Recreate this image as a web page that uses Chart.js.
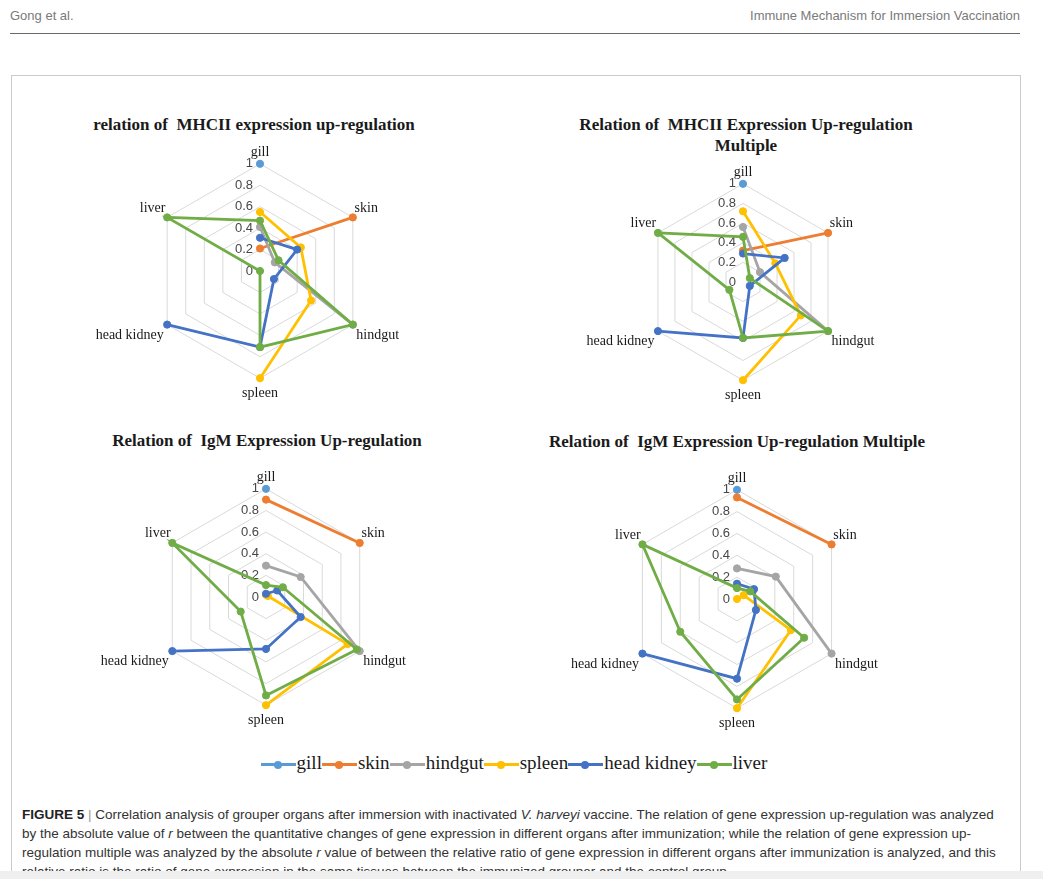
<!DOCTYPE html>
<html>
<head>
<meta charset="utf-8">
<script src="https://cdn.jsdelivr.net/npm/chart.js@4.4.1/dist/chart.umd.min.js"></script>
<style>
body { margin: 0; width: 1043px; height: 879px; position: relative; background: #fff; overflow: hidden; font-family: "Liberation Sans", Arial, sans-serif; }
.hdr { position: absolute; top: 8px; font-size: 13px; color: #7a7a7a; }
#rule { position: absolute; left: 10px; top: 33px; width: 1010px; height: 0; border-top: 1.5px solid #6a6a6a; }
#box { position: absolute; left: 11px; top: 75px; width: 1008px; height: 820px; border: 1.5px solid #cbcbcb; }
.title { position: absolute; font: bold 17px "Liberation Serif", "Times New Roman", serif; color: #1a1a1a; white-space: pre; text-align: center; line-height: 21px; transform: translateX(-50%); }
canvas { position: absolute; }
#legend { position: absolute; left: 0; width: 1028px; top: 752px; text-align: center; font: 19px "Liberation Serif", serif; color: #1a1a1a; white-space: nowrap; }
.mk { position: relative; display: inline-block; width: 35px; height: 3px; vertical-align: middle; margin: 0 1px 0 0; }
.mk i { position: absolute; left: 13px; top: -2.5px; width: 8px; height: 8px; border-radius: 50%; }
#caption { position: absolute; left: 22px; top: 805px; font-size: 13.5px; line-height: 19px; color: #333; white-space: nowrap; }
#band { position: absolute; left: 0; top: 871px; width: 1043px; height: 8px; background: #efefef; }
</style>
</head>
<body>
<div class="hdr" style="left:10px">Gong et al.</div>
<div class="hdr" style="right:23px">Immune Mechanism for Immersion Vaccination</div>
<div id="rule"></div>
<div id="box"></div>

<div class="title" style="left:254px;top:114px">relation of  MHCII expression up-regulation</div>
<div class="title" style="left:746px;top:114px">Relation of  MHCII Expression Up-regulation
Multiple</div>
<div class="title" style="left:267px;top:430px">Relation of  IgM Expression Up-regulation</div>
<div class="title" style="left:737px;top:431px">Relation of  IgM Expression Up-regulation Multiple</div>

<canvas id="c1"></canvas>
<canvas id="c2"></canvas>
<canvas id="c3"></canvas>
<canvas id="c4"></canvas>

<div id="legend"></div>

<div id="caption"><b style="color:#222">FIGURE 5</b> <span style="color:#999">|</span> Correlation analysis of grouper organs after immersion with inactivated <i>V. harveyi</i> vaccine. The relation of gene expression up-regulation was analyzed<br>by the absolute value of <i>r</i> between the quantitative changes of gene expression in different organs after immunization; while the relation of gene expression up-<br>regulation multiple was analyzed by the absolute <i>r</i> value of between the relative ratio of gene expression in different organs after immunization is analyzed, and this<br>relative ratio is the ratio of gene expression in the same tissues between the immunized grouper and the control group.</div>
<div id="band"></div>

<script>
// axes of every radar, also the series names
const organs = ['gill', 'skin', 'hindgut', 'spleen', 'head kidney', 'liver'];
const seriesColors = ['#5b9bd5', '#ed7d31', '#a5a5a5', '#ffc000', '#4472c4', '#70ad47'];
const tickValues = [0, 0.2, 0.4, 0.6, 0.8, 1];
const tickLabels = ['0', '0.2', '0.4', '0.6', '0.8', '1'];

// relation of MHCII expression up-regulation
const mhcRelGill = [1, null, null, null, null, null];
const mhcRelSkin = [0.21, 1, null, null, null, null];
const mhcRelHindgut = [0.41, 0.16, 1, null, null, null];
const mhcRelSpleen = [0.55, 0.44, 0.55, 1, null, null];
const mhcRelHeadKidney = [0.31, 0.4, 0.15, 0.71, 1, null];
const mhcRelLiver = [0.47, 0.2, 1, 0.71, 0, 1];

// MHCII up-regulation multiple
const mhcMulGill = [1, null, null, null, null, null];
const mhcMulSkin = [0.32, 1, null, null, null, null];
const mhcMulHindgut = [0.56, 0.2, 1, null, null, null];
const mhcMulSpleen = [0.72, 0.38, 0.68, 1, null, null];
const mhcMulHeadKidney = [0.29, 0.49, 0.08, 0.57, 1, null];
const mhcMulLiver = [0.46, 0.08, 1, 0.57, 0.16, 1];

// relation of IgM expression up-regulation
const igmRelGill = [1, null, null, null, null, null];
const igmRelSkin = [0.9, 1, null, null, null, null];
const igmRelHindgut = [0.29, 0.37, 1, null, null, null];
const igmRelSpleen = [0.02, 0.02, 0.87, 1, null, null];
const igmRelHeadKidney = [0.03, 0.12, 0.37, 0.48, 1, null];
const igmRelLiver = [0.11, 0.18, 0.97, 0.91, 0.27, 1];

// IgM up-regulation multiple
const igmMulGill = [1, null, null, null, null, null];
const igmMulSkin = [0.93, 1, null, null, null, null];
const igmMulHindgut = [0.28, 0.41, 1, null, null, null];
const igmMulSpleen = [0, 0.07, 0.57, 1, null, null];
const igmMulHeadKidney = [0.14, 0.18, 0.2, 0.73, 1, null];
const igmMulLiver = [0.1, 0.14, 0.71, 0.92, 0.6, 1];

// tick labels sit left of the gill axis, "0" included
const tickLabelPlugin = {
    id: 'tickLabels',
    beforeDatasetsDraw(chart) {
        const s = chart.scales.r;
        const ctx = chart.ctx;
        ctx.save();
        ctx.font = '13px "Liberation Sans", Arial, sans-serif';
        ctx.fillStyle = '#474747';
        ctx.textAlign = 'right';
        ctx.textBaseline = 'middle';
        tickValues.forEach((v, i) => {
            const d = s.getDistanceFromCenterForValue(v);
            ctx.fillText(tickLabels[i], s.xCenter - 7, s.yCenter - d);
        });
        ctx.restore();
    }
};

const labelSize = 14;
const labelLine = labelSize * 1.2;
// gap between a vertex and its organ label, per axis
const labelPads = [3, 2, 4, 7, 4, 2];

function makeRadar(id, cx, cy, radius, rows) {
    const canvas = document.getElementById(id);
    const w = 440;
    const maxPad = Math.max(labelPads[0], labelPads[3]);
    const h = 2 * Math.round(radius + maxPad + labelLine);
    const shift = Math.floor((labelPads[0] - labelPads[3]) / 2);
    canvas.width = w;
    canvas.height = h;
    canvas.style.left = (cx - w / 2) + 'px';
    canvas.style.top = (cy - h / 2 - shift) + 'px';
    return new Chart(canvas, {
        type: 'radar',
        data: {
            labels: organs,
            datasets: rows.map((row, i) => ({
                label: organs[i],
                data: row,
                borderColor: seriesColors[i],
                backgroundColor: seriesColors[i],
                pointBackgroundColor: seriesColors[i],
                pointBorderColor: seriesColors[i],
                borderWidth: 2.8,
                pointRadius: 3.6,
                pointBorderWidth: 1,
                fill: false,
                spanGaps: false,
                order: rows.length - i
            }))
        },
        options: {
            responsive: false,
            animation: false,
            devicePixelRatio: 1,
            layout: { padding: 0 },
            plugins: {
                legend: { display: false },
                tooltip: { enabled: false }
            },
            scales: {
                r: {
                    min: 0,
                    max: 1,
                    ticks: { stepSize: 0.2, display: false },
                    grid: { color: '#d9d9d9', lineWidth: 1 },
                    angleLines: { display: false },
                    pointLabels: {
                        font: { family: '"Liberation Serif", "Times New Roman", serif', size: labelSize },
                        color: '#1a1a1a',
                        padding: (c) => labelPads[c.index]
                    }
                }
            }
        },
        plugins: [tickLabelPlugin]
    });
}

makeRadar('c1', 260, 272, 107, [mhcRelGill, mhcRelSkin, mhcRelHindgut, mhcRelSpleen, mhcRelHeadKidney, mhcRelLiver]);
makeRadar('c2', 743, 283, 98, [mhcMulGill, mhcMulSkin, mhcMulHindgut, mhcMulSpleen, mhcMulHeadKidney, mhcMulLiver]);
makeRadar('c3', 266, 598, 108, [igmRelGill, igmRelSkin, igmRelHindgut, igmRelSpleen, igmRelHeadKidney, igmRelLiver]);
makeRadar('c4', 737, 600, 109, [igmMulGill, igmMulSkin, igmMulHindgut, igmMulSpleen, igmMulHeadKidney, igmMulLiver]);

// shared legend under the four charts
const legendEl = document.getElementById('legend');
legendEl.innerHTML = organs.map((name, i) =>
    '<span class="mk" style="background:' + seriesColors[i] + '"><i style="background:' + seriesColors[i] + '"></i></span>' + name
).join('');
</script>
</body>
</html>
